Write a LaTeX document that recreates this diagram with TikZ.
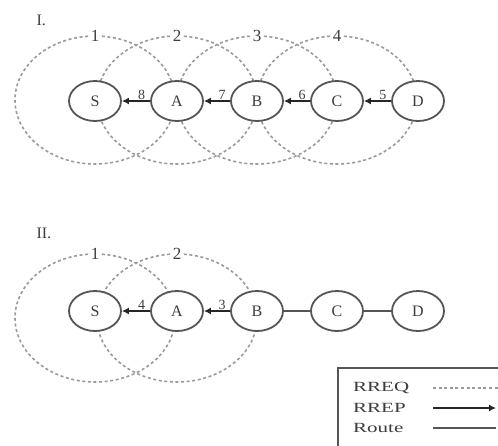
\documentclass[tikz,border=0pt]{standalone}
\usepackage{fontspec}
\setmainfont{Liberation Serif}
\usetikzlibrary{shapes.geometric,arrows.meta}
\definecolor{inkgray}{HTML}{3C3C3C}
\definecolor{edgegray}{HTML}{555555}
\definecolor{ringgray}{HTML}{9A9A9A}
\tikzset{
  nd/.style={ellipse, draw=edgegray, line width=1.8pt, fill=white,
    minimum width=52pt, minimum height=40pt, inner sep=0pt,
    text=inkgray, font=\fontsize{16}{16}\selectfont},
  rreqring/.style={draw=ringgray, line width=1.6pt, dash pattern=on 3pt off 2.6pt},
  hop/.style={fill=white, inner sep=1.8pt, text=inkgray, font=\fontsize{17}{17}\selectfont},
  rrep/.style={draw=black!85, line width=1.7pt, -{Latex[length=7pt,width=7pt]}},
  route/.style={draw=edgegray, line width=1.3pt},
  elab/.style={above, inner sep=1pt, text=inkgray, font=\fontsize{14}{14}\selectfont},
  panel/.style={anchor=west, text=inkgray, font=\fontsize{16}{16}\selectfont},
  legtext/.style={anchor=west, text=inkgray, inner sep=0pt, font=\fontsize{14}{14}\selectfont},
}
\newcommand{\wide}[1]{\scalebox{1.5}[1]{#1}}
\begin{document}
\begin{tikzpicture}[x=1pt, y=-1pt]
\useasboundingbox (0,0) rectangle (498,445);

% ---------------- Part I: RREQ flood and RREP return ----------------
\node[panel] (p1) at (33,20) {I.};

\foreach \cx/\k in {95/1, 177/2, 257/3, 337/4} {
  \draw[rreqring] (\cx,100) ellipse [x radius=80, y radius=64];
}
\foreach \cx/\k in {95/1, 177/2, 257/3, 337/4} {
  \node[hop] (h\k) at (\cx,36) {\k};
}

\node[nd] (S1) at (95,101) {S};
\node[nd] (A1) at (177,101) {A};
\node[nd] (B1) at (257,101) {B};
\node[nd] (C1) at (337,101) {C};
\node[nd] (D1) at (418,101) {D};

\draw[rrep] (A1) -- node[elab, pos=0.3] {8} (S1);
\draw[rrep] (B1) -- node[elab, pos=0.3] {7} (A1);
\draw[rrep] (C1) -- node[elab, pos=0.3] {6} (B1);
\draw[rrep] (D1) -- node[elab, pos=0.3] {5} (C1);

% ---------------- Part II: reply from an intermediate node ----------------
\node[panel] (p2) at (33,233) {II.};

\foreach \cx/\k in {95/1, 177/2} {
  \draw[rreqring] (\cx,318) ellipse [x radius=80, y radius=64];
}
\foreach \cx/\k in {95/1, 177/2} {
  \node[hop] (g\k) at (\cx,254) {\k};
}

\node[nd] (S2) at (95,311) {S};
\node[nd] (A2) at (177,311) {A};
\node[nd] (B2) at (257,311) {B};
\node[nd] (C2) at (337,311) {C};
\node[nd] (D2) at (418,311) {D};

\draw[rrep] (A2) -- node[elab, pos=0.3] {4} (S2);
\draw[rrep] (B2) -- node[elab, pos=0.3] {3} (A2);
\draw[route] (B2) -- (C2);
\draw[route] (C2) -- (D2);

% ---------------- Legend ----------------
\draw[draw=edgegray, line width=1.8pt] (338,448) -- (338,368) -- (502,368);
\node[legtext] (l1) at (353,388) {\wide{RREQ}};
\node[legtext] (l2) at (353,408) {\wide{RREP}};
\node[legtext] (l3) at (353,428) {\wide{Route}};
\coordinate (q1a) at (433,388); \coordinate (q1b) at (498,388);
\coordinate (q2a) at (433,408); \coordinate (q2b) at (496,408);
\coordinate (q3a) at (433,428); \coordinate (q3b) at (496,428);
\draw[rreqring] (q1a) -- (q1b);
\draw[rrep] (q2a) -- (q2b);
\draw[route] (q3a) -- (q3b);
\end{tikzpicture}
\end{document}
